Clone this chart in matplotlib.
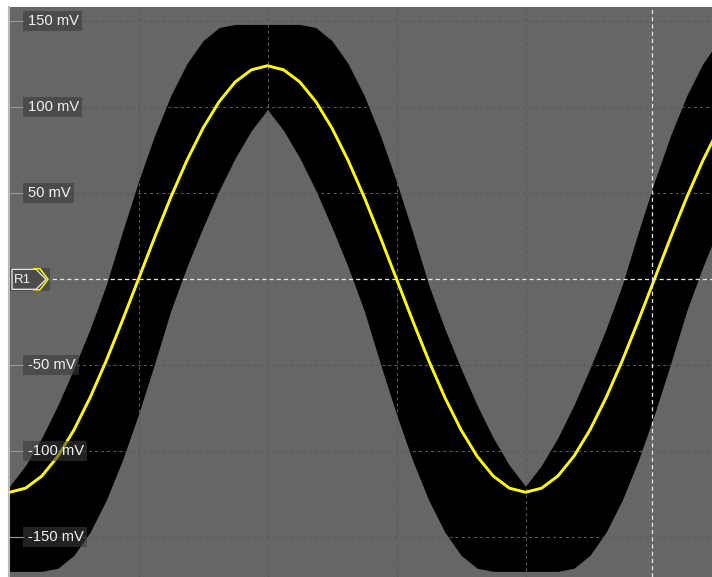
import matplotlib
matplotlib.use("Agg")
import matplotlib.pyplot as plt
from matplotlib.patches import Rectangle, Polygon
from matplotlib.lines import Line2D
from matplotlib.transforms import IdentityTransform

plt.rcParams["lines.scale_dashes"] = False
plt.rcParams["font.family"] = ["Liberation Sans", "DejaVu Sans"]

# ---------------- data (read from the screen) ----------------
# time in horizontal divisions, sampled every 1/8 division
time_div = [0.0, 0.125, 0.25, 0.375, 0.5, 0.625, 0.75, 0.875,
            1.0, 1.125, 1.25, 1.375, 1.5, 1.625, 1.75, 1.875,
            2.0, 2.125, 2.25, 2.375, 2.5, 2.625, 2.75, 2.875,
            3.0, 3.125, 3.25, 3.375, 3.5, 3.625, 3.75, 3.875,
            4.0, 4.125, 4.25, 4.375, 4.5, 4.625, 4.75, 4.875,
            5.0, 5.125, 5.25, 5.375, 5.5]

# averaged trace (yellow), mV
trace_mv = [-124.0, -121.6, -114.6, -103.1, -87.7, -68.9, -47.5, -24.2,
            0.0, 24.2, 47.5, 68.9, 87.7, 103.1, 114.6, 121.6,
            124.0, 121.6, 114.6, 103.1, 87.7, 68.9, 47.5, 24.2,
            0.0, -24.2, -47.5, -68.9, -87.7, -103.1, -114.6, -121.6,
            -124.0, -121.6, -114.6, -103.1, -87.7, -68.9, -47.5, -24.2,
            0.0, 24.2, 47.5, 68.9, 87.7]

# persistence envelope (black band), mV
env_upper_mv = [-120.5, -108.3, -92.4, -73.4, -52.0, -29.0, -3.5, 27.3,
                56.7, 83.5, 106.6, 125.2, 138.6, 146.2, 148.0, 148.0,
                148.0, 148.0, 148.0, 146.2, 138.6, 125.2, 106.6, 83.5,
                56.7, 27.3, -3.5, -29.0, -52.0, -73.4, -92.4, -108.3,
                -120.5, -108.3, -92.4, -73.4, -52.0, -29.0, -3.5, 27.3,
                56.7, 83.5, 106.6, 125.2, 138.6]
env_lower_mv = [-170.0, -170.0, -170.0, -168.2, -160.6, -147.2, -128.6, -105.5,
                -78.7, -49.3, -18.5, 7.0, 30.0, 51.4, 70.4, 86.3,
                98.5, 86.3, 70.4, 51.4, 30.0, 7.0, -18.5, -49.3,
                -78.7, -105.5, -128.6, -147.2, -160.6, -168.2, -170.0, -170.0,
                -170.0, -170.0, -170.0, -168.2, -160.6, -147.2, -128.6, -105.5,
                -78.7, -49.3, -18.5, 7.0, 30.0]

y_grid_mv = [150, 100, 50, -50, -100, -150]
y_labels = ["150 mV", "100 mV", "50 mV", "-50 mV", "-100 mV", "-150 mV"]
x_grid_div = [1, 2, 3, 4]
cursor_div = 4.98
ref_level_mv = 0
ref_label = "R1"

# ---------------- figure ----------------
W, H = 712, 577
fig = plt.figure(figsize=(W / 100, H / 100), dpi=100, facecolor="white")
ax = fig.add_axes([9 / W, 0, (W - 9) / W, (H - 7) / H])
ax.set_facecolor("#666666")
ax.set_xlim(-0.0039, 5.4457)
ax.set_ylim(-173.26, 158.14)
ax.set_xticks([])
ax.set_yticks([])
for s in ("top", "right", "bottom"):
    ax.spines[s].set_visible(False)
ax.spines["left"].set_color("#b8b8b8")
ax.spines["left"].set_linewidth(1.5)

ax.fill_between(time_div, env_lower_mv, env_upper_mv, color="black", lw=0, zorder=1)

grid_kw = dict(color="#595959", lw=0.8, dashes=(2.2, 2.2), zorder=2)
for v in y_grid_mv:
    ax.axhline(v, **grid_kw)
for v in x_grid_div:
    ax.axvline(v, **grid_kw)

ax.plot(time_div, trace_mv, color="#ffff00", lw=2.1, zorder=3,
        solid_joinstyle="round")

white_kw = dict(color="#e8e8e8", lw=0.9, dashes=(3.0, 2.2), zorder=4)
ax.axhline(ref_level_mv, **white_kw)
ax.axvline(cursor_div, **white_kw)

# tick stubs + labels
ytr = ax.get_yaxis_transform()
x_px = lambda px: (px - 9) / (W - 9)
texts = []
for v, lab in zip(y_grid_mv, y_labels):
    ax.add_line(Line2D([x_px(10), x_px(23)], [v, v], transform=ytr,
                       color="#9a9a9a", lw=0.8, zorder=5))
    t = ax.text(x_px(28), v, lab, transform=ytr, ha="left", va="center",
                color="#f2f2f2", fontsize=10.6, zorder=7)
    texts.append((v, t))

fig.canvas.draw()
r = fig.canvas.get_renderer()
for v, t in texts:
    bb = t.get_window_extent(r)
    yc = ax.transData.transform((0, v))[1]
    rect = Rectangle((23, yc - 10), bb.x1 + 3 - 23, 20, transform=IdentityTransform(),
                     facecolor="#3a3a3a", alpha=0.6, edgecolor="none", zorder=6)
    ax.add_patch(rect)

# R1 reference marker (pixel coordinates, y from top)
ov = fig.add_axes([0, 0, 1, 1])
ov.set_xlim(0, W)
ov.set_ylim(H, 0)
ov.axis("off")
ov.patch.set_alpha(0)
y0 = 279.3
ov.add_patch(Rectangle((10, y0 - 11.5), 40, 23, facecolor="#4c4c4c", edgecolor="none"))
ov.add_patch(Polygon([(12, y0 - 10), (36, y0 - 10), (46, y0), (36, y0 + 10), (12, y0 + 10)],
                     closed=True, facecolor="none", edgecolor="#f0f0f0", lw=0.9))
ov.add_line(Line2D([34, 40, 48, 40, 34], [y0 - 10.5, y0 - 10.5, y0, y0 + 10.5, y0 + 10.5],
                   color="#ffff00", lw=1.1))
ov.text(14, y0 + 0.5, ref_label, color="#f4f4f4", fontsize=9.5, ha="left", va="center")

fig.savefig("out.png", dpi=100, facecolor="white")
